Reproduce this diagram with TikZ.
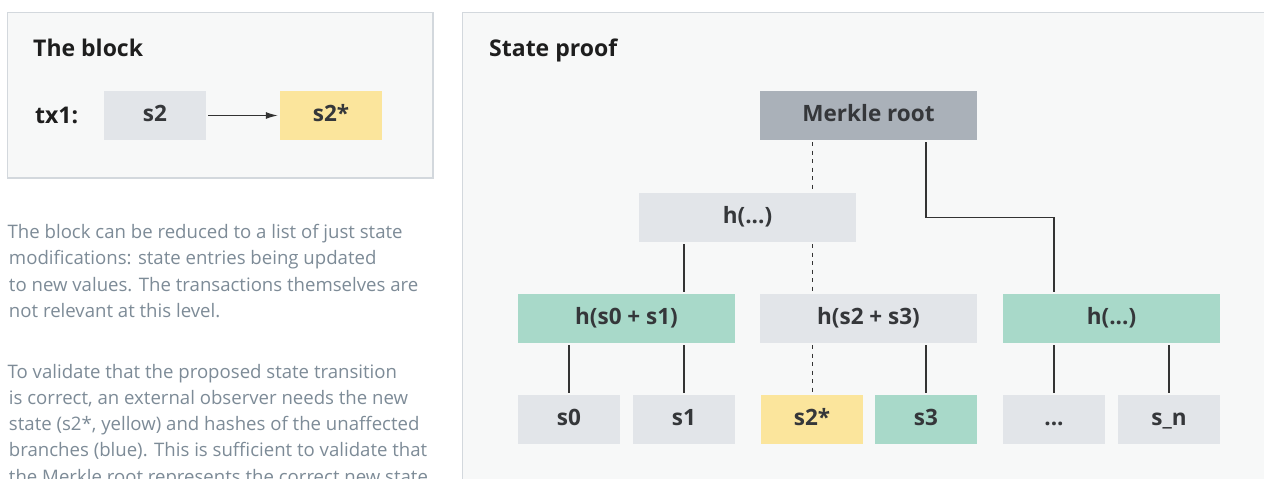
\documentclass[tikz,border=0pt]{standalone}
\usepackage{fontspec}
\setmainfont{Open Sans}
\usetikzlibrary{arrows.meta,calc}
\definecolor{panelfill}{HTML}{F7F8F8}
\definecolor{panelline}{HTML}{D3D8DD}
\definecolor{boxgray}{HTML}{E2E5E9}
\definecolor{rootgray}{HTML}{AAB1B9}
\definecolor{boxgreen}{HTML}{A8D9C9}
\definecolor{boxyellow}{HTML}{FBE59C}
\definecolor{darktext}{HTML}{35373A}
\definecolor{titletext}{HTML}{1E1E1E}
\definecolor{paratext}{HTML}{7D8B97}
\definecolor{linecol}{HTML}{333333}
\begin{document}
\begin{tikzpicture}[x=1pt,y=-1pt,
  panel/.style={fill=panelfill, draw=panelline, line width=1.5pt},
  box/.style={rectangle, inner sep=0pt, minimum height=49pt, text=darktext,
    text height=16pt, text depth=5pt,
    font=\fontsize{22.5}{26}\selectfont\bfseries},
  wide/.style={box, minimum width=217pt},
  leaf/.style={box, minimum width=102pt},
  title/.style={anchor=base west, inner sep=0pt, text=titletext,
    font=\fontsize{23}{27}\selectfont\bfseries},
  para/.style={anchor=base west, inner sep=0pt, text=paratext,
    font=\fontsize{18.6}{22}\selectfont},
  link/.style={draw=linecol, line width=1.2pt, shorten <=2pt, shorten >=2pt},
  dlink/.style={link, line width=1pt, dash pattern=on 4pt off 4.5pt}
]
\useasboundingbox (0,0) rectangle (1264,479);
\clip (0,0) rectangle (1264,479);
\fill[white] (0,0) rectangle (1264,479);

% left panel
\draw[panel] (7.5,12.5) rectangle (433,178);
\node[title] (tblock) at (33,56) {The block};
\node[title] (tx) at (35,123.5) {tx1:};
\node[leaf, fill=boxgray] (bs2) at (155,115.5) {s2};
\node[leaf, fill=boxyellow] (bs2s) at (331,115.5) {s2*};
\draw[link, -{Latex[length=12pt,width=7pt]}] (bs2.east) -- (bs2s.west);

% text
\node[para] (pa1) at (7.5,238.5) {The block can be reduced to a list of just state};
\foreach \t [count=\i from 2] in {modifications: state entries being updated,
  to new values. The transactions themselves are,
  not relevant at this level.}
  \node[para] (pa\i) at (8.8,{238.5+(\i-1)*26.3}) {\t};
\node[para] (pb1) at (7.5,378) {To validate that the proposed state transition};
\foreach \t [count=\i from 2] in {{is correct, an external observer needs the new},
  {state (s2*, yellow) and hashes of the unaffected},
  branches (blue). This is sufficient to validate that,
  the Merkle root represents the correct new state}
  \node[para] (pb\i) at (8.8,{378+(\i-1)*26.3}) {\t};

% right panel
\draw[panel] (462.5,12.5) rectangle (1300,520);
\node[title] (tproof) at (489,56) {State proof};

\node[wide, fill=rootgray] (root) at (868.5,115.5) {Merkle root};
\node[wide, fill=boxgray] (hup) at (747.5,217.5) {h(...)};
\node[wide, fill=boxgreen] (h01) at (626.5,318.5) {h(s0 + s1)};
\node[wide, fill=boxgray] (h23) at (868.5,318.5) {h(s2 + s3)};
\node[wide, fill=boxgreen] (hr) at (1111.5,318.5) {h(...)};

\node[leaf, fill=boxgray] (s0) at (569,419.5) {s0};
\node[leaf, fill=boxgray] (s1) at (684,419.5) {s1};
\node[leaf, fill=boxyellow] (s2s) at (812,419.5) {s2*};
\node[leaf, fill=boxgreen] (s3) at (926,419.5) {s3};
\node[leaf, fill=boxgray] (dots) at (1054,419.5) {...};
\node[leaf, fill=boxgray] (sn) at (1169,419.5) {s\_n};

\draw[dlink] (root.south -| s2s) -- (hup.north -| s2s);
\draw[dlink] (hup.south -| s2s) -- (h23.north -| s2s);
\draw[dlink] (h23.south -| s2s) -- (s2s.north);
\draw[link] (hup.south -| s1) -- (h01.north -| s1);
\draw[link] (root.south -| s3) -- (hup.east -| s3) -| (hr.north -| dots);
\draw[link] (h01.south -| s0) -- (s0.north);
\draw[link] (h01.south -| s1) -- (s1.north);
\draw[link] (h23.south -| s3) -- (s3.north);
\draw[link] (hr.south -| dots) -- (dots.north);
\draw[link] (hr.south -| sn) -- (sn.north);
\end{tikzpicture}
\end{document}
